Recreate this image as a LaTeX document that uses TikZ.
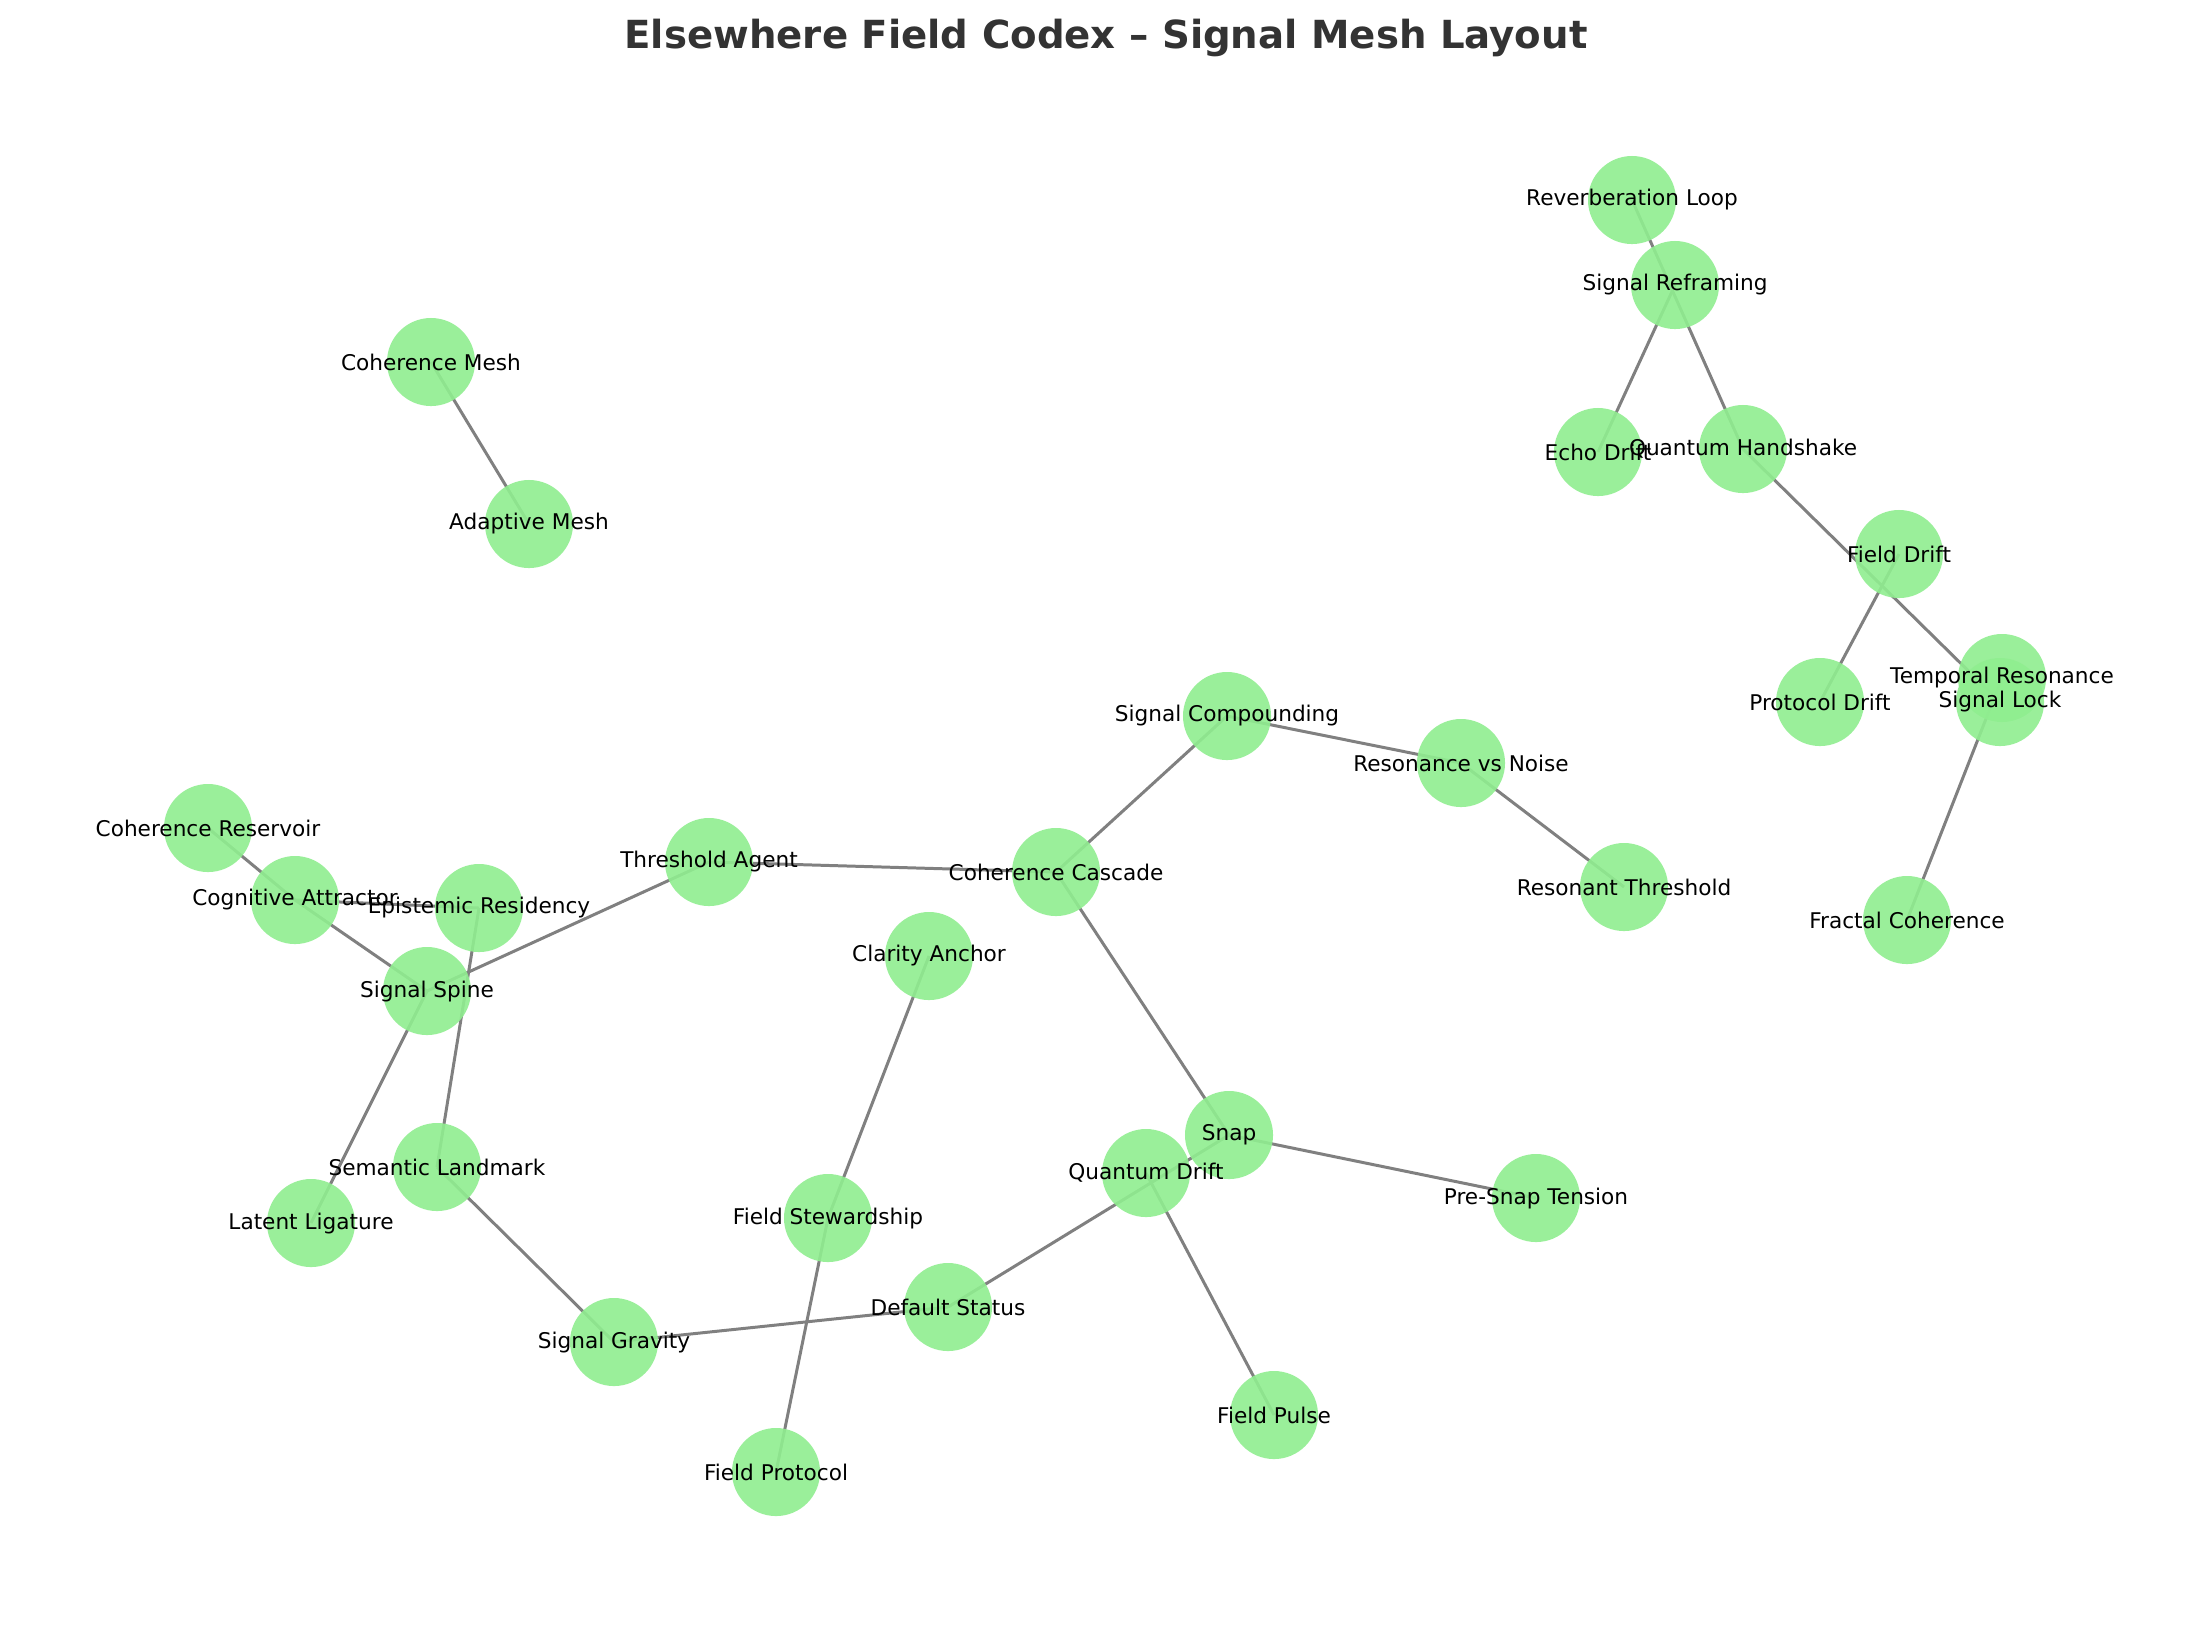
\documentclass[tikz,border=0pt]{standalone}
\usepackage{fontspec}
\setmainfont{DejaVu Sans}
\usetikzlibrary{backgrounds}
\definecolor{nodegreen}{RGB}{144,238,144}
\definecolor{edgegray}{RGB}{128,128,128}
\definecolor{titlegray}{RGB}{51,51,51}
\tikzset{
  gnode/.style={circle, fill=nodegreen, fill opacity=0.9, draw=none, minimum size=0.88cm, inner sep=0pt},
  lbl/.style={font=\fontsize{6.15}{7}\selectfont, text=black, inner sep=0pt, text opacity=1},
  edge/.style={draw=edgegray, line width=0.85pt},
  ttl/.style={font=\fontsize{11}{13}\selectfont\bfseries, text=titlegray, inner sep=0pt, anchor=base}
}
\begin{document}
\begin{tikzpicture}[x=0.01cm,y=-0.01cm]
\useasboundingbox (0,0) rectangle (2210,1626);
% nodes (circles)
\node[gnode] (rl)  at (1632,200) {};
\node[gnode] (sr)  at (1675,285) {};
\node[gnode] (ed)  at (1598,452) {};
\node[gnode] (qh)  at (1743,449) {};
\node[gnode] (fd)  at (1899,554) {};
\node[gnode] (pd)  at (1820,702) {};
\node[gnode] (tr)  at (2002,678) {};
\node[gnode] (sl)  at (2000,702) {};
\node[gnode] (fc)  at (1907,920) {};
\node[gnode] (cm)  at (431,362) {};
\node[gnode] (am)  at (529,524) {};
\node[gnode] (sc)  at (1227,716) {};
\node[gnode] (rn)  at (1461,763) {};
\node[gnode] (rt)  at (1624,887) {};
\node[gnode] (cc)  at (1056,872) {};
\node[gnode] (ta)  at (709,862) {};
\node[gnode] (cr)  at (208,828) {};
\node[gnode] (ca)  at (295,900) {};
\node[gnode] (er)  at (479,908) {};
\node[gnode] (ss)  at (427,991) {};
\node[gnode] (cla) at (929,956) {};
\node[gnode] (sml) at (437,1167) {};
\node[gnode] (ll)  at (311,1223) {};
\node[gnode] (sn)  at (1229,1135) {};
\node[gnode] (qd)  at (1146,1173) {};
\node[gnode] (pst) at (1536,1198) {};
\node[gnode] (fs)  at (828,1218) {};
\node[gnode] (ds)  at (948,1307) {};
\node[gnode] (sg)  at (614,1342) {};
\node[gnode] (fp)  at (1274,1415) {};
\node[gnode] (fpr) at (776,1472) {};
% edges underneath
\begin{pgfonlayer}{background}
\fill[white] (0,0) rectangle (2210,1626);
\draw[edge] (rl.center) -- (qh.center);
\draw[edge] (sr.center) -- (ed.center);
\draw[edge] (qh.center) -- (sl.center);
\draw[edge] (fd.center) -- (pd.center);
\draw[edge] (tr.center) -- (fc.center);
\draw[edge] (cm.center) -- (am.center);
\draw[edge] (sc.center) -- (rn.center);
\draw[edge] (rn.center) -- (rt.center);
\draw[edge] (sc.center) -- (cc.center);
\draw[edge] (cc.center) -- (ta.center);
\draw[edge] (cc.center) -- (sn.center);
\draw[edge] (ta.center) -- (ss.center);
\draw[edge] (cr.center) -- (ca.center);
\draw[edge] (ca.center) -- (ss.center);
\draw[edge] (ca.center) -- (er.center);
\draw[edge] (er.center) -- (sml.center);
\draw[edge] (ss.center) -- (ll.center);
\draw[edge] (sml.center) -- (sg.center);
\draw[edge] (sg.center) -- (ds.center);
\draw[edge] (ds.center) -- (sn.center);
\draw[edge] (qd.center) -- (fp.center);
\draw[edge] (sn.center) -- (pst.center);
\draw[edge] (cla.center) -- (fs.center);
\draw[edge] (fs.center) -- (fpr.center);
\end{pgfonlayer}
% labels on top
\node[lbl] (rl-l)  at (rl)  {Reverberation Loop};
\node[lbl] (sr-l)  at (sr)  {Signal Reframing};
\node[lbl] (ed-l)  at (ed)  {Echo Drift};
\node[lbl] (qh-l)  at (qh)  {Quantum Handshake};
\node[lbl] (fd-l)  at (fd)  {Field Drift};
\node[lbl] (pd-l)  at (pd)  {Protocol Drift};
\node[lbl] (tr-l)  at (tr)  {Temporal Resonance};
\node[lbl] (sl-l)  at (sl)  {Signal Lock};
\node[lbl] (fc-l)  at (fc)  {Fractal Coherence};
\node[lbl] (cm-l)  at (cm)  {Coherence Mesh};
\node[lbl] (am-l)  at (am)  {Adaptive Mesh};
\node[lbl] (sc-l)  at (sc)  {Signal Compounding};
\node[lbl] (rn-l)  at (rn)  {Resonance vs Noise};
\node[lbl] (rt-l)  at (rt)  {Resonant Threshold};
\node[lbl] (cc-l)  at (cc)  {Coherence Cascade};
\node[lbl] (ta-l)  at (ta)  {Threshold Agent};
\node[lbl] (cr-l)  at (cr)  {Coherence Reservoir};
\node[lbl] (ca-l)  at (ca)  {Cognitive Attractor};
\node[lbl] (er-l)  at (er)  {Epistemic Residency};
\node[lbl] (ss-l)  at (ss)  {Signal Spine};
\node[lbl] (cla-l) at (cla) {Clarity Anchor};
\node[lbl] (sml-l) at (sml) {Semantic Landmark};
\node[lbl] (ll-l)  at (ll)  {Latent Ligature};
\node[lbl] (sn-l)  at (sn)  {Snap};
\node[lbl] (qd-l)  at (qd)  {Quantum Drift};
\node[lbl] (pst-l) at (pst) {Pre-Snap Tension};
\node[lbl] (fs-l)  at (fs)  {Field Stewardship};
\node[lbl] (ds-l)  at (ds)  {Default Status};
\node[lbl] (sg-l)  at (sg)  {Signal Gravity};
\node[lbl] (fp-l)  at (fp)  {Field Pulse};
\node[lbl] (fpr-l) at (fpr) {Field Protocol};
% title
\node[ttl] (title) at (1106,48) {Elsewhere Field Codex – Signal Mesh Layout};
\end{tikzpicture}
\end{document}
